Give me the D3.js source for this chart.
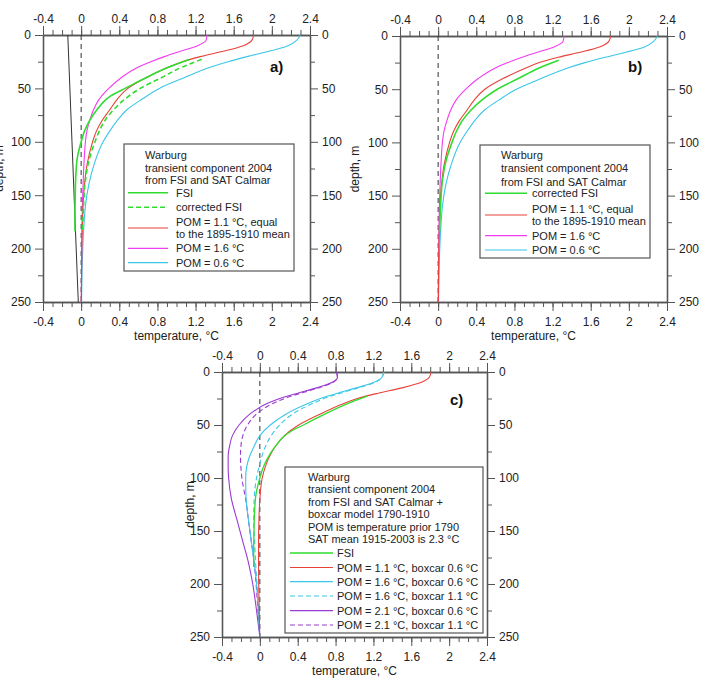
<!DOCTYPE html>
<html><head><meta charset="utf-8">
<script src="https://cdn.jsdelivr.net/npm/d3@7"></script>
<style>
body{margin:0;background:#fff}
svg{display:block;font-family:Arial,"Liberation Sans",sans-serif}
</style>
</head><body>
<svg id="chart" width="702" height="690"></svg>
<script>
// ---------------- DATA ----------------
const xTickValues = [-0.4, 0, 0.4, 0.8, 1.2, 1.6, 2, 2.4];
const xTickLabels = ["-0.4", "0", "0.4", "0.8", "1.2", "1.6", "2", "2.4"];
const yTickValues = [0, 50, 100, 150, 200, 250];
const yMinorValues = [25, 75, 125, 175, 225];

// panels a & b : depth (m) and temperature (°C)
const depthAB = [0, 5, 10, 15, 20, 25, 30, 40, 50, 60, 70, 80, 90, 100, 120, 140, 160, 180, 200, 225, 250];
const pom11 = [1.81, 1.79, 1.70, 1.50, 1.26, 1.06, 0.92, 0.68, 0.49, 0.38, 0.30, 0.22, 0.16, 0.12, 0.065, 0.035, 0.02, 0.012, 0.007, 0.004, 0.002];
const pom16 = [1.32, 1.31, 1.22, 1.05, 0.88, 0.73, 0.60, 0.42, 0.29, 0.19, 0.13, 0.09, 0.06, 0.045, 0.03, 0.02, 0.013, 0.009, 0.006, 0.004, 0.002];
const pom06 = [2.30, 2.26, 2.17, 1.98, 1.75, 1.54, 1.36, 1.08, 0.82, 0.64, 0.48, 0.38, 0.30, 0.23, 0.14, 0.08, 0.045, 0.028, 0.017, 0.009, 0.004];

const fsiDepth = [22.8, 30, 40, 45, 50, 57, 60, 70, 80, 90, 100, 115, 130, 150, 165, 184];
const fsi = [1.135, 0.92, 0.68, 0.57, 0.46, 0.31, 0.265, 0.165, 0.09, 0.035, 0.0, -0.04, -0.055, -0.062, -0.065, -0.065];

const cfsiDepth = [22.8, 30, 40, 50, 60, 70, 80, 90, 100, 120, 140, 160, 184];
const cfsi = [1.265, 1.06, 0.84, 0.62, 0.46, 0.34, 0.25, 0.19, 0.145, 0.075, 0.04, 0.025, 0.015];

const trendDepth = [0, 250];
const trend = [-0.14, -0.03];

// panel c : boxcar model
const depthC = [0, 5, 10, 15, 20, 25, 30, 40, 50, 60, 70, 80, 90, 100, 120, 140, 160, 180, 200, 225, 250];
const c11b06 = [1.81, 1.79, 1.70, 1.50, 1.25, 1.03, 0.88, 0.63, 0.41, 0.26, 0.165, 0.10, 0.055, 0.025, 0.0, -0.01, -0.014, -0.014, -0.012, -0.007, -0.002];
const c16b06 = [1.31, 1.29, 1.20, 1.02, 0.82, 0.64, 0.50, 0.27, 0.11, 0.0, -0.06, -0.11, -0.14, -0.15, -0.145, -0.12, -0.09, -0.06, -0.035, -0.015, 0];
const c16b11 = [1.31, 1.29, 1.21, 1.04, 0.85, 0.68, 0.55, 0.34, 0.21, 0.12, 0.06, 0.02, -0.01, -0.035, -0.06, -0.065, -0.055, -0.045, -0.03, -0.015, 0];
const c21b06 = [0.81, 0.82, 0.76, 0.60, 0.40, 0.21, 0.07, -0.11, -0.22, -0.29, -0.32, -0.335, -0.335, -0.33, -0.30, -0.24, -0.18, -0.12, -0.075, -0.035, 0];
const c21b11 = [0.81, 0.82, 0.77, 0.62, 0.43, 0.26, 0.13, -0.04, -0.13, -0.18, -0.20, -0.205, -0.20, -0.19, -0.15, -0.12, -0.09, -0.06, -0.04, -0.02, 0];

// ---------------- STYLE ----------------
const COL = {green: "#2fdc2f", red: "#e8413a", magenta: "#f23cf2", cyan: "#3cc6e8", purple: "#9b3ad0", black: "#333"};

const svg = d3.select("#chart");
const zip = (ds, vs) => ds.map((d, i) => ({d: d, t: vs[i]}));

function panel(cfg) {
  const g = svg.append("g");
  const x = d3.scaleLinear().domain([-0.4, 2.4]).range([cfg.x0, cfg.x0 + cfg.w]);
  const y = d3.scaleLinear().domain([0, 250]).range([cfg.y0, cfg.y0 + cfg.h]);
  const minorX = d3.range(-0.4, 2.4001, 0.1);
  const fmt = v => xTickLabels[xTickValues.findIndex(a => Math.abs(a - v) < 1e-9)];

  function styleAxis(sel) {
    sel.selectAll(".domain").attr("stroke", "#555").attr("stroke-width", 1.3);
    sel.selectAll(".tick line").attr("stroke", "#555").attr("stroke-width", 1);
    sel.selectAll("text").attr("font-size", 12).attr("fill", "#222").attr("font-family", "Arial, 'Liberation Sans', sans-serif");
  }
  // minor ticks
  g.append("g").attr("transform", `translate(0,${cfg.y0})`).call(d3.axisTop(x).tickValues(minorX).tickSize(5).tickFormat("").tickSizeOuter(0)).call(styleAxis);
  g.append("g").attr("transform", `translate(0,${cfg.y0 + cfg.h})`).call(d3.axisBottom(x).tickValues(minorX).tickSize(5).tickFormat("").tickSizeOuter(0)).call(styleAxis);
  g.append("g").attr("transform", `translate(${cfg.x0},0)`).call(d3.axisLeft(y).tickValues(yMinorValues).tickSize(5).tickFormat("").tickSizeOuter(0)).call(styleAxis);
  g.append("g").attr("transform", `translate(${cfg.x0 + cfg.w},0)`).call(d3.axisRight(y).tickValues(yMinorValues).tickSize(5).tickFormat("").tickSizeOuter(0)).call(styleAxis);
  // major ticks
  g.append("g").attr("transform", `translate(0,${cfg.y0})`).call(d3.axisTop(x).tickValues(xTickValues).tickSize(9).tickPadding(3).tickFormat(fmt).tickSizeOuter(0)).call(styleAxis);
  g.append("g").attr("transform", `translate(0,${cfg.y0 + cfg.h})`).call(d3.axisBottom(x).tickValues(xTickValues).tickSize(9).tickPadding(6).tickFormat(fmt).tickSizeOuter(0)).call(styleAxis);
  g.append("g").attr("transform", `translate(${cfg.x0},0)`).call(d3.axisLeft(y).tickValues(yTickValues).tickSize(8).tickPadding(4).tickFormat(d3.format("d")).tickSizeOuter(0)).call(styleAxis);
  g.append("g").attr("transform", `translate(${cfg.x0 + cfg.w},0)`).call(d3.axisRight(y).tickValues(yTickValues).tickSize(8).tickPadding(4).tickFormat(d3.format("d")).tickSizeOuter(0)).call(styleAxis);

  // axis titles
  g.append("text").attr("x", cfg.x0 + cfg.w / 2).attr("y", cfg.y0 + cfg.h + 38).attr("text-anchor", "middle")
    .attr("font-size", 12).attr("fill", "#222").text("temperature, °C");
  g.append("text").attr("transform", `translate(${cfg.ylabX},${cfg.y0 + cfg.h / 2}) rotate(-90)`).attr("text-anchor", "middle")
    .attr("font-size", 12).attr("fill", "#222").text("depth, m");

  // zero line
  g.append("line").attr("x1", x(0)).attr("x2", x(0)).attr("y1", y(0)).attr("y2", y(250))
    .attr("stroke", "#333").attr("stroke-width", 1).attr("stroke-dasharray", "5,4");

  const line = d3.line().x(p => x(p.t)).y(p => y(p.d)).curve(d3.curveMonotoneY);
  cfg.series.forEach(s => {
    g.append("path").datum(zip(s.depth, s.vals)).attr("d", line).attr("fill", "none")
      .attr("stroke", s.color).attr("stroke-width", s.width || 1.1).attr("stroke-dasharray", s.dash || null);
  });

  // panel label
  g.append("text").attr("x", cfg.lab[0]).attr("y", cfg.lab[1]).attr("font-size", 15).attr("font-weight", "bold").attr("fill", "#111").text(cfg.label);

  // legend
  const L = cfg.legend;
  g.append("rect").attr("x", L.x).attr("y", L.y).attr("width", L.w).attr("height", L.h)
    .attr("fill", "#fff").attr("stroke", "#555").attr("stroke-width", 1.2);
  L.title.forEach((t, i) => {
    g.append("text").attr("x", L.x + L.tx).attr("y", L.y + L.t0 + i * L.tdy).attr("font-size", 11).attr("fill", "#222").text(t);
  });
  L.entries.forEach(e => {
    const cy = L.y + e.cy;
    g.append("line").attr("x1", L.x + L.l0).attr("x2", L.x + L.l1).attr("y1", cy).attr("y2", cy)
      .attr("stroke", e.color).attr("stroke-width", e.width || 1.2).attr("stroke-dasharray", e.dash || null);
    e.text.forEach((t, j) => {
      const n = e.text.length;
      g.append("text").attr("x", L.x + L.ex).attr("y", cy + 4 + (j - (n - 1) / 2) * 12.6)
        .attr("font-size", 11).attr("fill", "#222").text(t);
    });
  });
}

const titleAB = ["Warburg", "transient component 2004", "from FSI and SAT Calmar"];

panel({
  x0: 43, y0: 35, w: 267, h: 267, ylabX: 3, label: "a)", lab: [270, 72],
  series: [
    {depth: trendDepth, vals: trend, color: COL.black, width: 1},
    {depth: depthAB, vals: pom06, color: COL.cyan},
    {depth: depthAB, vals: pom16, color: COL.magenta},
    {depth: depthAB, vals: pom11, color: COL.red},
    {depth: cfsiDepth, vals: cfsi, color: COL.green, width: 1.6, dash: "5,3"},
    {depth: fsiDepth, vals: fsi, color: COL.green, width: 1.6}
  ],
  legend: {x: 124, y: 144, w: 170, h: 127, tx: 21, t0: 15, tdy: 12.5, l0: 4, l1: 44, ex: 52,
    title: titleAB,
    entries: [
      {cy: 48.7, color: COL.green, width: 1.6, text: ["FSI"]},
      {cy: 63.3, color: COL.green, width: 1.6, dash: "5,3", text: ["corrected FSI"]},
      {cy: 84, color: COL.red, text: ["POM = 1.1 °C, equal", "to the 1895-1910 mean"]},
      {cy: 104.3, color: COL.magenta, text: ["POM = 1.6 °C"]},
      {cy: 118.7, color: COL.cyan, text: ["POM = 0.6 °C"]}
    ]}
});

panel({
  x0: 400, y0: 36, w: 267, h: 266, ylabX: 359, label: "b)", lab: [628, 72],
  series: [
    {depth: depthAB, vals: pom06, color: COL.cyan},
    {depth: depthAB, vals: pom16, color: COL.magenta},
    {depth: depthAB, vals: pom11, color: COL.red},
    {depth: cfsiDepth, vals: cfsi, color: COL.green, width: 1.6}
  ],
  legend: {x: 480, y: 145, w: 170, h: 113, tx: 21, t0: 14, tdy: 13.3, l0: 5, l1: 47, ex: 52,
    title: titleAB,
    entries: [
      {cy: 48.3, color: COL.green, width: 1.6, text: ["corrected FSI"]},
      {cy: 70, color: COL.red, text: ["POM = 1.1 °C, equal", "to the 1895-1910 mean"]},
      {cy: 90.7, color: COL.magenta, text: ["POM = 1.6 °C"]},
      {cy: 105, color: COL.cyan, text: ["POM = 0.6 °C"]}
    ]}
});

panel({
  x0: 222, y0: 372, w: 265, h: 265, ylabX: 194, label: "c)", lab: [450, 405],
  series: [
    {depth: depthC, vals: c21b06, color: COL.purple},
    {depth: depthC, vals: c21b11, color: COL.purple, dash: "5,3"},
    {depth: depthC, vals: c16b06, color: COL.cyan},
    {depth: depthC, vals: c16b11, color: COL.cyan, dash: "5,3"},
    {depth: depthC, vals: c11b06, color: COL.red},
    {depth: fsiDepth, vals: fsi, color: COL.green, width: 1.3}
  ],
  legend: {x: 285, y: 467, w: 198, h: 166, tx: 23, t0: 14, tdy: 12.4, l0: 5, l1: 48, ex: 52,
    title: ["Warburg", "transient component 2004", "from FSI and SAT Calmar +", "boxcar model 1790-1910",
            "POM is temperature prior 1790", "SAT mean 1915-2003 is 2.3 °C"],
    entries: [
      {cy: 86, color: COL.green, width: 1.3, text: ["FSI"]},
      {cy: 100.5, color: COL.red, text: ["POM = 1.1 °C, boxcar 0.6 °C"]},
      {cy: 114.7, color: COL.cyan, text: ["POM = 1.6 °C, boxcar 0.6 °C"]},
      {cy: 129, color: COL.cyan, dash: "5,3", text: ["POM = 1.6 °C, boxcar 1.1 °C"]},
      {cy: 143.7, color: COL.purple, text: ["POM = 2.1 °C, boxcar 0.6 °C"]},
      {cy: 158, color: COL.purple, dash: "5,3", text: ["POM = 2.1 °C, boxcar 1.1 °C"]}
    ]}
});
</script>
</body></html>
